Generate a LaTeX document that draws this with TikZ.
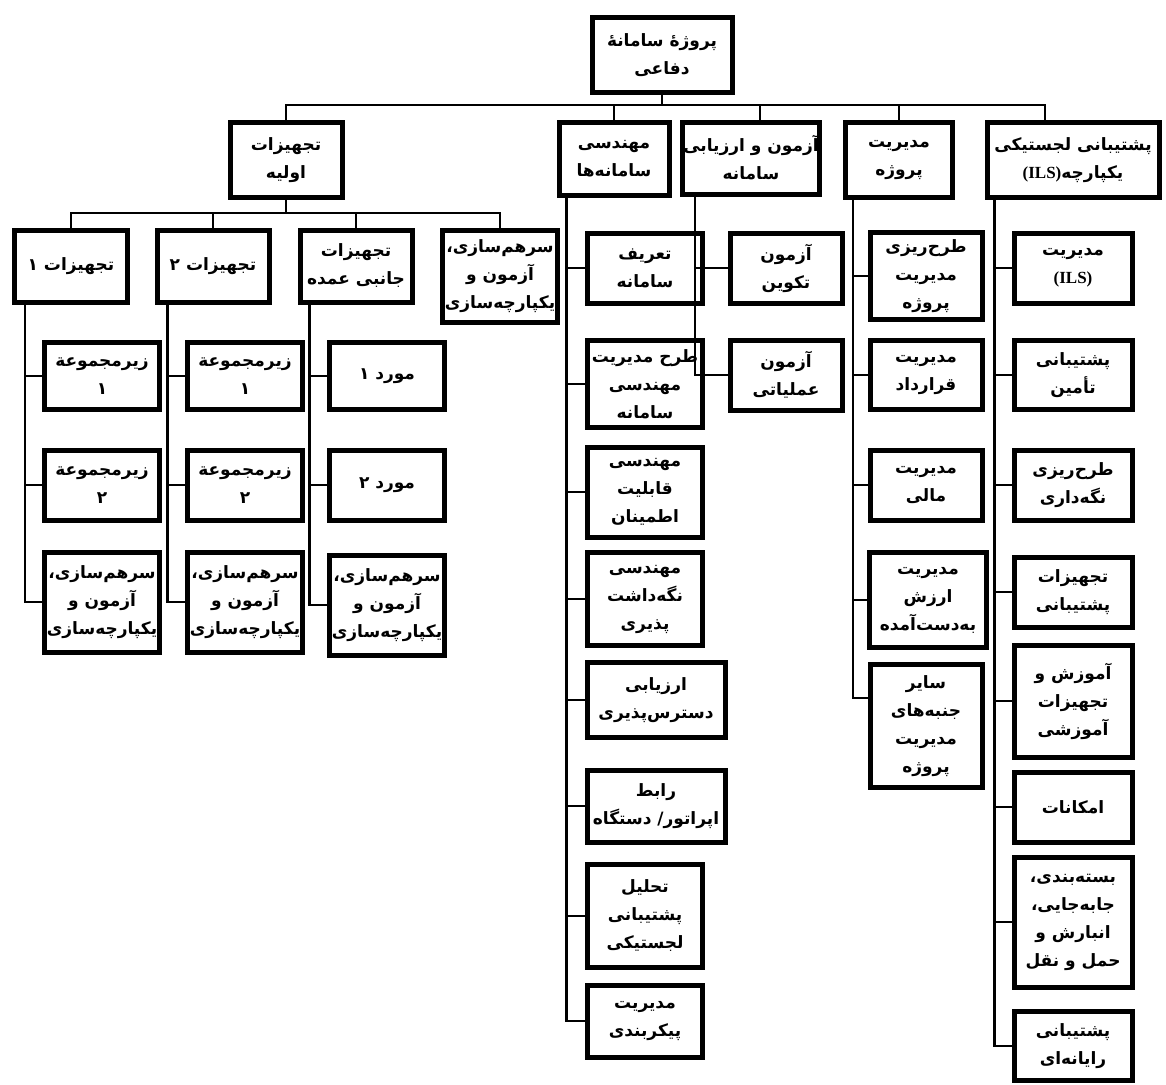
\documentclass[tikz,border=0pt]{standalone}
\usepackage{fontspec}
\newfontfamily\farsi[Script=Arabic]{DejaVu Sans}
\newfontfamily\latin{Liberation Serif}
\TeXXeTstate=1
\newcommand{\rl}[1]{\beginR #1\endR}
\newcommand{\ils}{\beginL{\latin\bfseries (ILS)}\endL}
\tikzset{
  kadr/.style={draw, line width=5pt, fill=white, align=center, inner sep=1pt,
    font=\farsi\bfseries\fontsize{17}{28}\selectfont},
  link/.style={line width=2.4pt},
}
\begin{document}
\begin{tikzpicture}[x=1pt, y=-1pt]
    \useasboundingbox (0,0) rectangle (1166,1084);

    % Top of the tree
    \node[kadr, minimum width=140, minimum height=75] (root) at (662,55) {\rl{پروژهٔ سامانهٔ}\\\rl{دفاعی}};

    % First level
    \node[kadr, minimum width=112, minimum height=75] (A) at (286,160) {\rl{تجهیزات}\\\rl{اولیه}};
    \node[kadr, minimum width=110, minimum height=73] (B) at (614,159) {\rl{مهندسی}\\\rl{سامانه‌ها}};
    \node[kadr, minimum width=103, minimum height=72] (C) at (751,158) {\rl{آزمون و ارزیابی}\\\rl{سامانه}};
    \node[kadr, minimum width=107, minimum height=75] (D) at (899,160) {\rl{مدیریت}\\\rl{پروژه}};
    \node[kadr, minimum width=172, minimum height=75] (E) at (1073,160) {\rl{پشتیبانی لجستیکی}\\\rl{یکپارچه\ils}};

    % Equipment branch
    \node[kadr, minimum width=113, minimum height=72] (A1) at (71,266) {\rl{تجهیزات ۱}};
    \node[kadr, minimum width=112, minimum height=72] (A2) at (213,266) {\rl{تجهیزات ۲}};
    \node[kadr, minimum width=112, minimum height=72] (A3) at (356,266) {\rl{تجهیزات}\\\rl{جانبی عمده}};
    \node[kadr, minimum width=115, minimum height=92] (A4) at (500,276) {\rl{سرهم‌سازی،}\\\rl{آزمون و}\\\rl{یکپارچه‌سازی}};

    \node[kadr, minimum width=115, minimum height=67] (a11) at (102,376) {\rl{زیرمجموعة}\\\rl{۱}};
    \node[kadr, minimum width=115, minimum height=70] (a12) at (102,485) {\rl{زیرمجموعة}\\\rl{۲}};
    \node[kadr, minimum width=115, minimum height=100] (a13) at (102,602) {\rl{سرهم‌سازی،}\\\rl{آزمون و}\\\rl{یکپارچه‌سازی}};
    \node[kadr, minimum width=115, minimum height=67] (a21) at (245,376) {\rl{زیرمجموعة}\\\rl{۱}};
    \node[kadr, minimum width=115, minimum height=70] (a22) at (245,485) {\rl{زیرمجموعة}\\\rl{۲}};
    \node[kadr, minimum width=115, minimum height=100] (a23) at (245,602) {\rl{سرهم‌سازی،}\\\rl{آزمون و}\\\rl{یکپارچه‌سازی}};
    \node[kadr, minimum width=115, minimum height=67] (a31) at (387,376) {\rl{مورد ۱}};
    \node[kadr, minimum width=115, minimum height=70] (a32) at (387,485) {\rl{مورد ۲}};
    \node[kadr, minimum width=115, minimum height=100] (a33) at (387,605) {\rl{سرهم‌سازی،}\\\rl{آزمون و}\\\rl{یکپارچه‌سازی}};

    % Systems engineering
    \node[kadr, minimum width=115, minimum height=70] (b1) at (645,268) {\rl{تعریف}\\\rl{سامانه}};
    \node[kadr, minimum width=115, minimum height=87] (b2) at (645,384) {\rl{طرح مدیریت}\\\rl{مهندسی}\\\rl{سامانه}};
    \node[kadr, minimum width=115, minimum height=90] (b3) at (645,492) {\rl{مهندسی}\\\rl{قابلیت}\\\rl{اطمینان}};
    \node[kadr, minimum width=115, minimum height=93] (b4) at (645,599) {\rl{مهندسی}\\\rl{نگه‌داشت}\\\rl{پذیری}};
    \node[kadr, minimum width=138, minimum height=75] (b5) at (656,700) {\rl{ارزیابی}\\\rl{دسترس‌پذیری}};
    \node[kadr, minimum width=138, minimum height=72] (b6) at (656,806) {\rl{رابط}\\\rl{اپراتور/ دستگاه}};
    \node[kadr, minimum width=115, minimum height=103] (b7) at (645,916) {\rl{تحلیل}\\\rl{پشتیبانی}\\\rl{لجستیکی}};
    \node[kadr, minimum width=115, minimum height=72] (b8) at (645,1021) {\rl{مدیریت}\\\rl{پیکربندی}};

    % Test and evaluation
    \node[kadr, minimum width=112, minimum height=70] (c1) at (786,268) {\rl{آزمون}\\\rl{تکوین}};
    \node[kadr, minimum width=112, minimum height=70] (c2) at (786,375) {\rl{آزمون}\\\rl{عملیاتی}};

    % Project management
    \node[kadr, minimum width=112, minimum height=87] (d1) at (926,276) {\rl{طرح‌ریزی}\\\rl{مدیریت}\\\rl{پروژه}};
    \node[kadr, minimum width=112, minimum height=69] (d2) at (926,375) {\rl{مدیریت}\\\rl{قرارداد}};
    \node[kadr, minimum width=112, minimum height=70] (d3) at (926,485) {\rl{مدیریت}\\\rl{مالی}};
    \node[kadr, minimum width=117, minimum height=95] (d4) at (928,600) {\rl{مدیریت}\\\rl{ارزش}\\\rl{به‌دست‌آمده}};
    \node[kadr, minimum width=112, minimum height=123] (d5) at (926,726) {\rl{سایر}\\\rl{جنبه‌های}\\\rl{مدیریت}\\\rl{پروژه}};

    % Integrated logistics support
    \node[kadr, minimum width=118, minimum height=70] (e1) at (1073,268) {\rl{مدیریت}\\\ils};
    \node[kadr, minimum width=118, minimum height=69] (e2) at (1073,375) {\rl{پشتیبانی}\\\rl{تأمین}};
    \node[kadr, minimum width=118, minimum height=70] (e3) at (1073,485) {\rl{طرح‌ریزی}\\\rl{نگه‌داری}};
    \node[kadr, minimum width=118, minimum height=70] (e4) at (1073,592) {\rl{تجهیزات}\\\rl{پشتیبانی}};
    \node[kadr, minimum width=118, minimum height=112] (e5) at (1073,701) {\rl{آموزش و}\\\rl{تجهیزات}\\\rl{آموزشی}};
    \node[kadr, minimum width=118, minimum height=70] (e6) at (1073,807) {\rl{امکانات}};
    \node[kadr, minimum width=118, minimum height=130] (e7) at (1073,922) {\rl{بسته‌بندی،}\\\rl{جابه‌جایی،}\\\rl{انبارش و}\\\rl{حمل و نقل}};
    \node[kadr, minimum width=118, minimum height=69] (e8) at (1073,1046) {\rl{پشتیبانی}\\\rl{رایانه‌ای}};

    % Buses under the root and under the equipment box
    \coordinate (bus) at (662,105);
    \coordinate (busA) at (286,213);
    \draw[link] (root) -- (bus);
    \draw[link] (A.north) -- (A.north |- bus) -- ([xshift=-28pt]E.north |- bus) -- ([xshift=-28pt]E.north);
    \foreach \n in {B,D} \draw[link] (\n.north) -- (\n.north |- bus);
    \draw[link] ([xshift=9pt]C.north) -- ([xshift=9pt]C.north |- bus);
    \draw[link] (A.south) -- (busA);
    \draw[link] (A1.north) |- (busA) -| (A4.north);
    \foreach \n in {A2,A3} \draw[link] (\n.north) -- (\n.north |- busA);

    % Side branches
    \foreach \p/\s/\kids in {A1/13/{a11,a12,a13}, A2/13/{a21,a22,a23}, A3/12/{a31,a32,a33},
        B/10/{b1,b2,b3,b4,b5,b6,b7,b8}, C/15/{c1,c2}, D/10/{d1,d2,d3,d4},
        E/10/{e1,e2,e3,e4,e5,e6,e7,e8}}
      \foreach \c in \kids
        \draw[link] ([xshift=\s pt]\p.south west) |- (\c.west);
    \draw[link] ([xshift=10pt]D.south west) |- ([yshift=28pt]d5.west);
\end{tikzpicture}
\end{document}
